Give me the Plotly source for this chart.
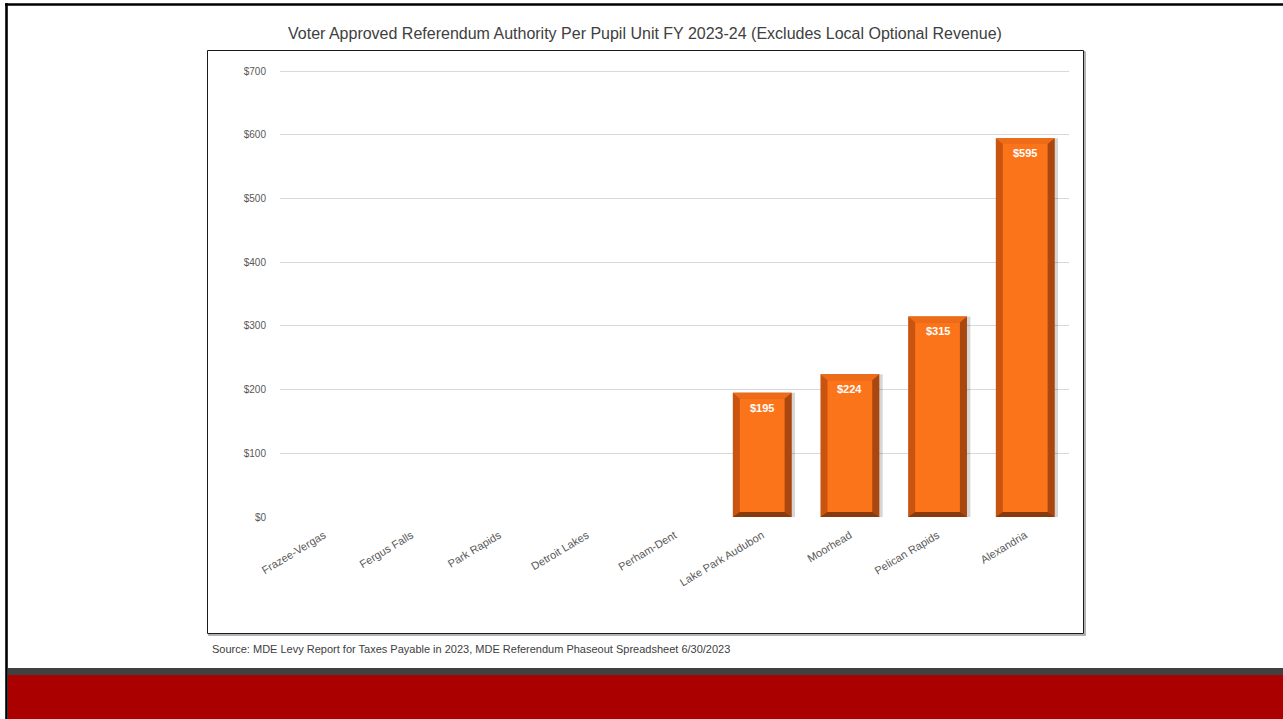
import plotly.graph_objects as go

# ---- data -------------------------------------------------------------
districts = [
    "Frazee-Vergas", "Fergus Falls", "Park Rapids", "Detroit Lakes",
    "Perham-Dent", "Lake Park Audubon", "Moorhead", "Pelican Rapids",
    "Alexandria",
]
authority = [0, 0, 0, 0, 0, 195, 224, 315, 595]
y_tick_values = [0, 100, 200, 300, 400, 500, 600, 700]
y_tick_labels = ["$0", "$100", "$200", "$300", "$400", "$500", "$600", "$700"]

title_text = ("Voter Approved Referendum Authority Per Pupil Unit FY 2023-24 "
              "(Excludes Local Optional Revenue)")
source_text = ("Source: MDE Levy Report for Taxes Payable in 2023, "
               "MDE Referendum Phaseout Spreadsheet 6/30/2023")

# ---- page geometry (pixels) -------------------------------------------
W, H = 1283, 719
PL, PR, PT, PB = 280, 1069, 70, 517          # plot area edges
Y_MAX = 702                                  # a little headroom keeps the top gridline visible


def px(x):
    return (x - PL) / (PR - PL)


def py(y):
    return (PB - y) / (PB - PT)


# ---- bar styling --------------------------------------------------------
BAR_W = 0.67
FACE = "#FC741A"
LEFT = "#C9540F"
RIGHT = "#A8470F"
BOTTOM = "#873A0C"
TOP = "#EE6C18"
BEV_X = 0.08      # bevel width in category units
BEV_TOP = 9.4     # bevel heights in value units
BEV_BOT = 7.8

FONT = "Liberation Sans, Arial, sans-serif"
GREY_TEXT = "#595959"

fig = go.Figure()

# soft drop shadow on the right of each bar
fig.add_trace(go.Bar(
    x=districts, y=authority, width=BAR_W, offset=-BAR_W / 2 + 0.04,
    marker=dict(color="rgba(0,0,0,0.16)", line=dict(width=0)),
    hoverinfo="skip", showlegend=False,
))
# bar body (shows as the left bevel)
fig.add_trace(go.Bar(
    x=districts, y=authority, width=BAR_W,
    marker=dict(color=LEFT, line=dict(width=0)),
    hovertemplate="%{x}: $%{y}<extra></extra>", showlegend=False,
))

shapes = []
annotations = []
hw = BAR_W / 2
for i, (name, v) in enumerate(zip(districts, authority)):
    if v <= 0:
        continue
    x0, x1 = i - hw, i + hw
    common = dict(type="path", xref="x", yref="y", line=dict(width=0), layer="above")
    shapes.append(dict(common, fillcolor=RIGHT,
                       path=f"M {x1},0 L {x1},{v} L {x1-BEV_X},{v-BEV_TOP} L {x1-BEV_X},{BEV_BOT} Z"))
    shapes.append(dict(common, fillcolor=BOTTOM,
                       path=f"M {x0},0 L {x1},0 L {x1-BEV_X},{BEV_BOT} L {x0+BEV_X},{BEV_BOT} Z"))
    shapes.append(dict(common, fillcolor=TOP,
                       path=f"M {x0},{v} L {x1},{v} L {x1-BEV_X},{v-BEV_TOP} L {x0+BEV_X},{v-BEV_TOP} Z"))
    shapes.append(dict(common, fillcolor=FACE,
                       path=f"M {x0+BEV_X},{BEV_BOT} L {x1-BEV_X},{BEV_BOT} L {x1-BEV_X},{v-BEV_TOP} L {x0+BEV_X},{v-BEV_TOP} Z"))
    annotations.append(dict(
        x=name, y=v, xref="x", yref="y", text=f"<b>${v}</b>", showarrow=False,
        yanchor="top", yshift=-7, font=dict(family=FONT, size=11, color="white"),
    ))

# chart frame with slight shadow
shapes.append(dict(type="rect", xref="paper", yref="paper",
                   x0=px(209), x1=px(1085), y0=py(52), y1=py(635),
                   line=dict(width=1.5, color="#9A9A9A"), fillcolor="rgba(0,0,0,0)", layer="below"))
shapes.append(dict(type="rect", xref="paper", yref="paper",
                   x0=px(207.5), x1=px(1083.5), y0=py(50.5), y1=py(633.5),
                   line=dict(width=1, color="#1A1A1A"), fillcolor="white", layer="below"))

# slide decorations: borders and footer bands
shapes.append(dict(type="rect", xref="paper", yref="paper",
                   x0=px(8), x1=px(W), y0=py(668), y1=py(675),
                   line=dict(width=0), fillcolor="#404040", layer="below"))
shapes.append(dict(type="rect", xref="paper", yref="paper",
                   x0=px(8), x1=px(W), y0=py(675), y1=py(H),
                   line=dict(width=0), fillcolor="#AA0000", layer="below"))
shapes.append(dict(type="line", xref="paper", yref="paper",
                   x0=px(5), x1=px(W), y0=py(4.5), y1=py(4.5),
                   line=dict(width=2.6, color="#000000")))
shapes.append(dict(type="line", xref="paper", yref="paper",
                   x0=px(6.5), x1=px(6.5), y0=py(3.2), y1=py(H),
                   line=dict(width=2.6, color="#000000")))

annotations.append(dict(
    x=px(645), y=py(33), xref="paper", yref="paper", text=title_text,
    showarrow=False, xanchor="center", yanchor="middle",
    font=dict(family=FONT, size=16, color="#404040"),
))
annotations.append(dict(
    x=px(210), y=py(649), xref="paper", yref="paper", text=source_text,
    showarrow=False, xanchor="left", yanchor="middle",
    font=dict(family=FONT, size=11, color="#404040"),
))

fig.update_layout(
    template="none",
    width=W, height=H,
    margin=dict(l=PL, r=W - PR, t=PT, b=H - PB, pad=0),
    paper_bgcolor="white", plot_bgcolor="rgba(0,0,0,0)",
    barmode="overlay", bargap=0.33,
    shapes=shapes, annotations=annotations,
    font=dict(family=FONT, color=GREY_TEXT),
    xaxis=dict(
        type="category", categoryorder="array", categoryarray=districts,
        range=[-0.5, len(districts) - 0.5],
        showgrid=False, showline=False, zeroline=False, ticks="",
        tickangle=-31, ticklabelstandoff=9,
        tickfont=dict(family=FONT, size=11, color=GREY_TEXT),
        fixedrange=True,
    ),
    yaxis=dict(
        range=[0, Y_MAX], tickvals=y_tick_values, ticktext=y_tick_labels,
        showgrid=True, gridcolor="#D9D9D9", gridwidth=1,
        zeroline=False, showline=False, ticks="", ticklabelstandoff=13,
        tickfont=dict(family=FONT, size=10, color=GREY_TEXT),
        fixedrange=True,
    ),
)

fig.write_html("out.html", config={"displayModeBar": False})
